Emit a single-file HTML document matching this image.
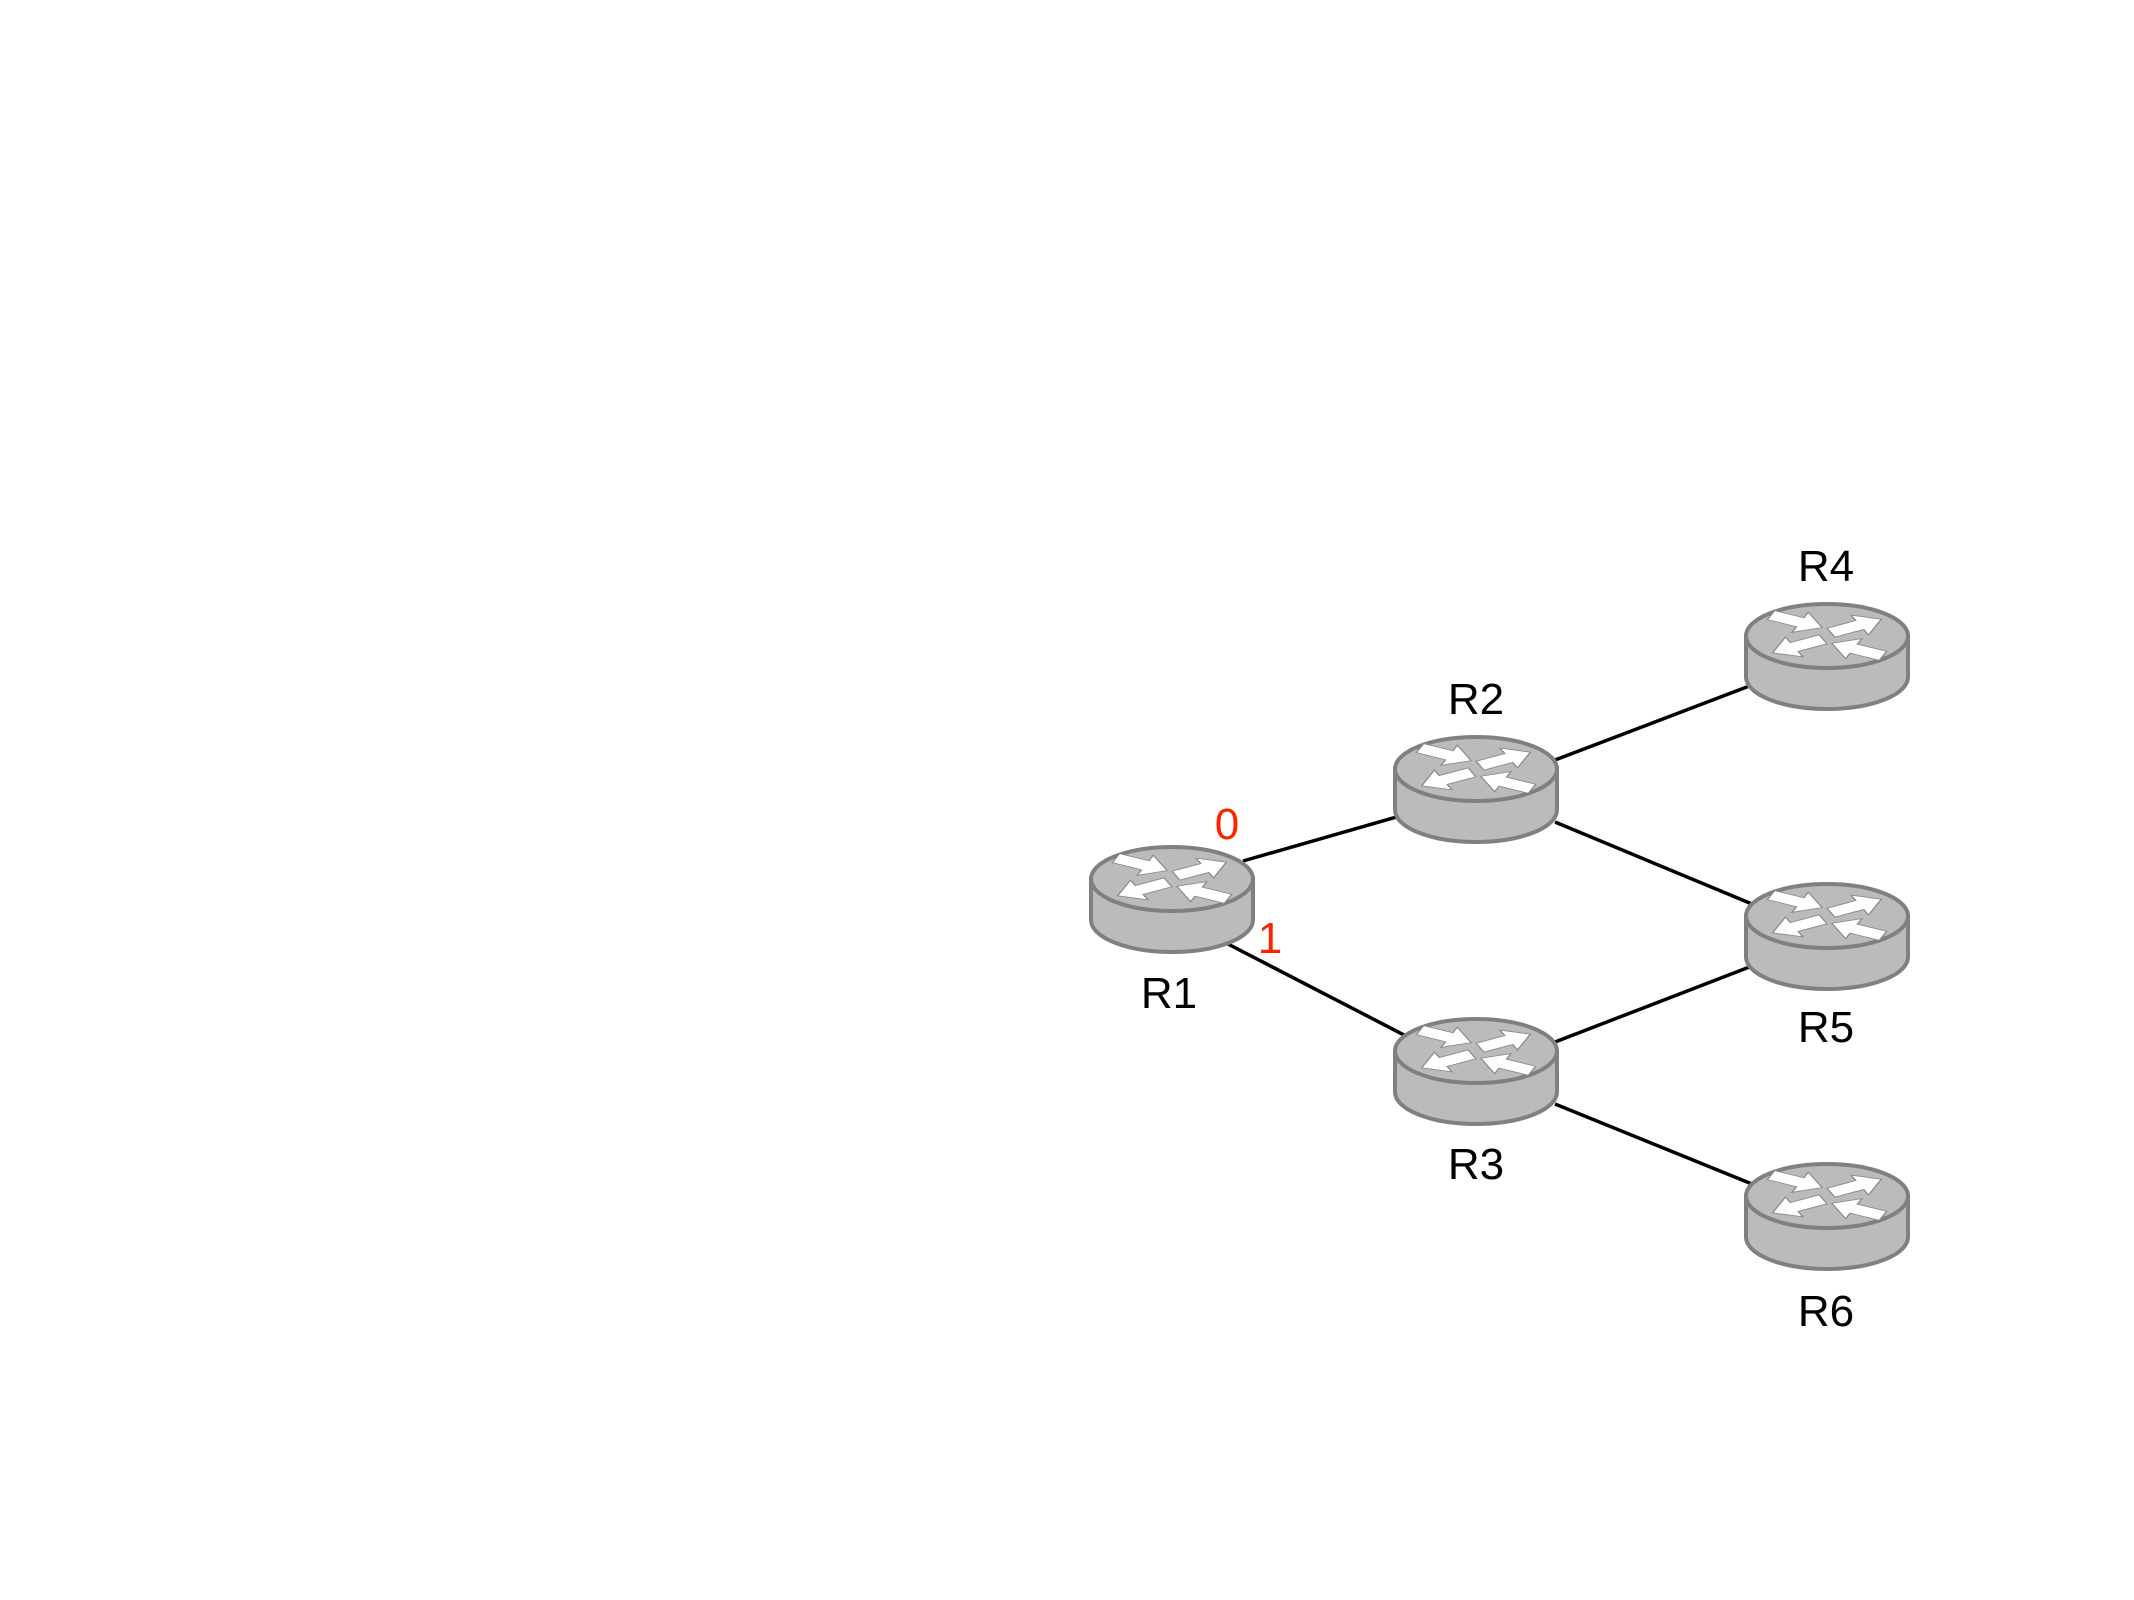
<!DOCTYPE html>
<html><head><meta charset="utf-8"><style>
html,body{margin:0;padding:0;background:#fff;}
svg{display:block;}
text{font-family:"Liberation Sans",sans-serif;}
</style></head><body>
<svg width="2134" height="1600" viewBox="0 0 2134 1600" xmlns="http://www.w3.org/2000/svg">
<defs>
<polygon id="ar" points="0,-9 32,-9 32,-20 56,0 32,20 32,9 0,9" fill="#fff" stroke="#8a8a8a" stroke-width="1.5"/>
<g id="rt">
  <path d="M-81,0 L-81,41 A81,32 0 0 0 81,41 L81,0 Z" fill="#bbb" stroke="#808080" stroke-width="4"/>
  <ellipse cx="0" cy="0" rx="81" ry="32" fill="#bbb" stroke="#808080" stroke-width="4"/>
  <g transform="scale(1,0.55)">
    <use href="#ar" transform="translate(-56,-38) rotate(24)"/>
    <use href="#ar" transform="translate(4,-6) rotate(-26)"/>
    <use href="#ar" transform="translate(-4,6) rotate(154)"/>
    <use href="#ar" transform="translate(56,36) rotate(204)"/>
  </g>
</g>
</defs>
<g stroke="#000" stroke-width="3.5">
<line x1="1243" y1="861" x2="1400" y2="816"/>
<line x1="1226" y1="943" x2="1406" y2="1036"/>
<line x1="1555" y1="760" x2="1752" y2="685"/>
<line x1="1555" y1="822" x2="1752" y2="904"/>
<line x1="1555" y1="1042" x2="1752" y2="966"/>
<line x1="1555" y1="1104" x2="1752" y2="1184"/>
</g>
<use href="#rt" x="1172" y="879"/>
<use href="#rt" x="1476" y="769"/>
<use href="#rt" x="1476" y="1051"/>
<use href="#rt" x="1827" y="636"/>
<use href="#rt" x="1827" y="916"/>
<use href="#rt" x="1827" y="1196"/>
<g font-size="44" text-anchor="middle" fill="#000">
<text x="1169" y="1008">R1</text>
<text x="1476" y="714">R2</text>
<text x="1476" y="1179">R3</text>
<text x="1826" y="581">R4</text>
<text x="1826" y="1042">R5</text>
<text x="1826" y="1326">R6</text>
</g>
<g font-size="44" text-anchor="middle" fill="#ff2200">
<text x="1227" y="839">0</text>
<text x="1270" y="953">1</text>
</g>
</svg>
</body></html>
